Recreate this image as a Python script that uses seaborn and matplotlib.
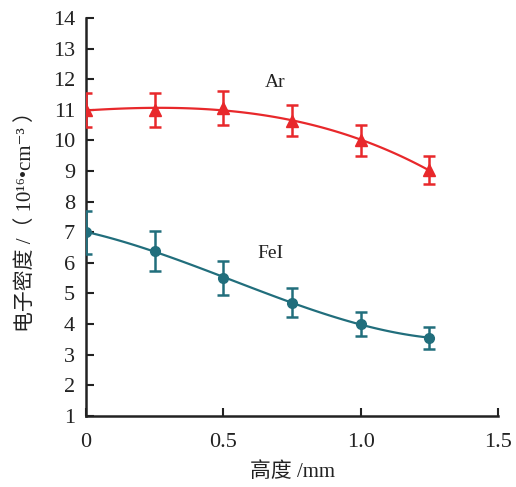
import numpy as np
import pandas as pd
import matplotlib
matplotlib.use("Agg")
import matplotlib.pyplot as plt
import seaborn as sns

# valeurs
height_mm = [0, 0.25, 0.5, 0.75, 1.0, 1.25]
ar_density = [11.0, 11.0, 11.05, 10.65, 10.0, 9.03]
ar_err = [0.55, 0.55, 0.55, 0.5, 0.5, 0.45]
fe_density = [7.0, 6.4, 5.5, 4.7, 4.0, 3.55]
fe_err = [0.7, 0.65, 0.55, 0.47, 0.4, 0.35]

x_ticks = [0, 0.5, 1.0, 1.5]
x_ticklabels = ["0", "0.5", "1.0", "1.5"]
y_ticks = list(range(1, 15))

red = "#e8282b"
teal = "#216e7c"

sns.set_style("ticks")
plt.rcParams["font.family"] = ["Liberation Serif", "DejaVu Serif", "Noto Sans CJK SC"]

df = pd.DataFrame({"h": height_mm, "ar": ar_density, "fe": fe_density})

fig = plt.figure(figsize=(5.16, 4.87), dpi=100)
ax = fig.add_axes([0.167, 0.146, 0.798, 0.817])

# courbes lissees
sns.regplot(data=df, x="h", y="ar", order=3, ci=None, scatter=False,
            line_kws={"color": red, "lw": 1.6}, ax=ax)
sns.regplot(data=df, x="h", y="fe", order=3, ci=None, scatter=False,
            line_kws={"color": teal, "lw": 1.6}, ax=ax)

# points + barres d'erreur
ax.errorbar(height_mm, ar_density, yerr=ar_err, fmt="^", color=red, ms=8,
            capsize=4, elinewidth=1.8, capthick=1.8, zorder=3)
ax.errorbar(height_mm, fe_density, yerr=fe_err, fmt="o", color=teal, ms=7,
            capsize=4, elinewidth=1.8, capthick=1.8, zorder=3)

ax.text(0.69, 11.9, "Ar", fontsize=14, ha="center", va="center", color="#222222")
ax.text(0.67, 6.3, "FeI", fontsize=14, ha="center", va="center", color="#222222")

ax.set_xlim(0, 1.5)
ax.set_ylim(1, 14)
ax.set_xticks(x_ticks)
ax.set_xticklabels(x_ticklabels)
ax.set_yticks(y_ticks)
ax.tick_params(direction="in", length=6, width=1.5, labelsize=16, colors="#222222")
ax.tick_params(axis="x", pad=12)
ax.tick_params(axis="y", pad=8)
for s in ["left", "bottom"]:
    ax.spines[s].set_linewidth(1.8)
    ax.spines[s].set_color("#222222")
sns.despine(ax=ax)

ax.set_xlabel("高度 /mm", fontsize=15, labelpad=8, color="#222222")
ax.set_ylabel("电子密度 /（ 10¹⁶•cm⁻³ ）", fontsize=15, labelpad=12, color="#222222")

fig.savefig("out.png", dpi=100)
